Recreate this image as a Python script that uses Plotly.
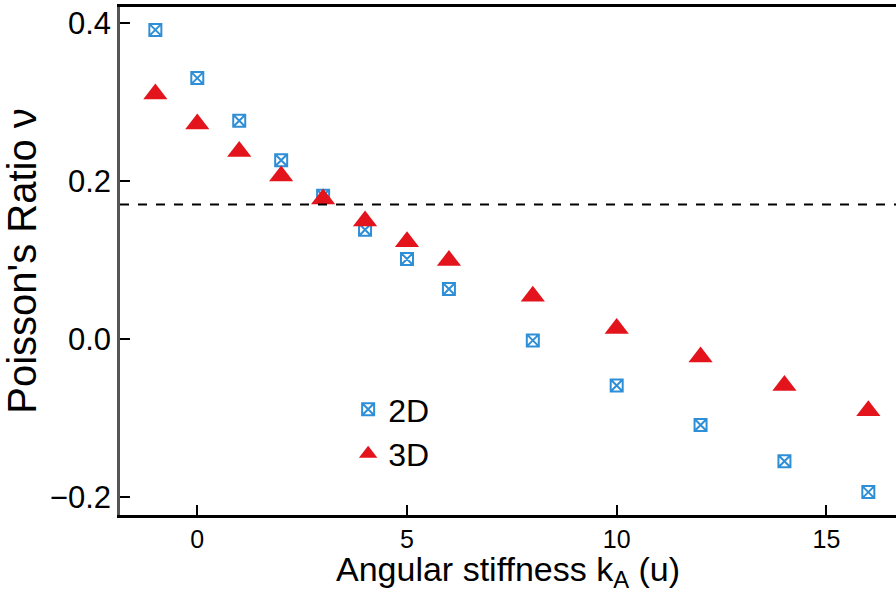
import plotly.graph_objects as go

# Angular stiffness values (u)
k_angular = [-1, 0, 1, 2, 3, 4, 5, 6, 8, 10, 12, 14, 16]

# Poisson's ratio for the two lattice dimensionalities
nu_2d = [0.391, 0.330, 0.276, 0.226, 0.181, 0.138, 0.101, 0.063, -0.002, -0.059, -0.109, -0.155, -0.194]
nu_3d = [0.310, 0.272, 0.237, 0.206, 0.177, 0.149, 0.123, 0.099, 0.054, 0.013, -0.023, -0.059, -0.091]

# Reference level drawn as a dashed horizontal line
nu_reference = 0.17

FONT = "Liberation Sans, Arial, sans-serif"
PLOT_H = 593 - 7 - 78

fig = go.Figure()

fig.add_trace(go.Scatter(
    x=k_angular, y=nu_2d, mode="markers", name="2D",
    marker=dict(symbol="square-x-open", size=12, color="#2f8fd6",
                line=dict(width=2, color="#2f8fd6")),
))
fig.add_trace(go.Scatter(
    x=k_angular, y=nu_3d, mode="markers", name="3D",
    marker=dict(symbol="triangle-up", size=21, color="#e3141b",
                line=dict(width=0)),
))

fig.add_shape(type="line", xref="paper", yref="y", x0=0, x1=1,
              y0=nu_reference, y1=nu_reference,
              line=dict(color="black", width=2, dash="dash"))

# x-axis title placed along the bottom edge of the figure
fig.add_annotation(
    text="Angular stiffness k<sub>A</sub> (u)",
    xref="paper", yref="paper", x=0.5, y=-78 / PLOT_H, yshift=-1,
    xanchor="center", yanchor="bottom", showarrow=False, borderpad=0,
    font=dict(size=34, family=FONT, color="black"),
)

fig.update_layout(
    width=896, height=593,
    margin=dict(l=120, r=0, t=7, b=78),
    paper_bgcolor="white", plot_bgcolor="white",
    font=dict(family=FONT, color="black"),
    showlegend=True,
    legend=dict(x=0.294, y=0.262, xanchor="left", yanchor="top",
                font=dict(size=32), bgcolor="rgba(0,0,0,0)",
                itemsizing="trace", tracegroupgap=2),
)

fig.update_xaxes(
    range=[-1.843, 16.66], tickvals=[0, 5, 10, 15],
    ticks="inside", ticklen=10, tickwidth=1.5, tickcolor="black",
    showline=True, linecolor="black", linewidth=2.5, mirror=True,
    showgrid=False, zeroline=False,
    tickfont=dict(size=25, family=FONT),
)
fig.update_yaxes(
    range=[-0.223, 0.42], tickvals=[-0.2, 0.0, 0.2, 0.4], tickformat=".1f",
    ticks="inside", ticklen=10, tickwidth=1.5, tickcolor="black",
    showline=True, linecolor="#555555", linewidth=2.5,
    showgrid=False, zeroline=False,
    tickfont=dict(size=31, family=FONT),
    title=dict(text="Poisson's Ratio ν", font=dict(size=40, family=FONT), standoff=10),
)

fig.write_html("out.html")
